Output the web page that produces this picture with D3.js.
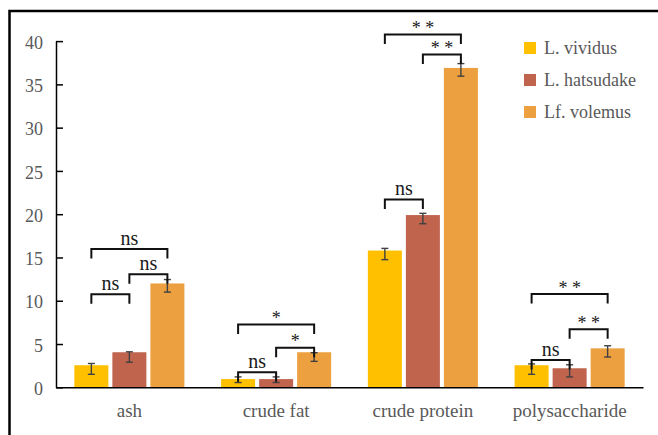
<!DOCTYPE html>
<html>
<head>
<meta charset="utf-8">
<script src="https://cdn.jsdelivr.net/npm/d3@7"></script>
<style>
  html, body { margin: 0; padding: 0; background: #fff; }
  svg { display: block; }
  text { font-family: "Liberation Serif", "Times New Roman", serif; }
</style>
</head>
<body>
<svg id="chart" width="658" height="435"></svg>
<script>
// Nutrient composition of three Lactarius species
const categories = ["ash", "crude fat", "crude protein", "polysaccharide"];
const seriesNames = ["L. vividus", "L. hatsudake", "Lf. volemus"];
const seriesColors = ["#FFC000", "#C0644E", "#EDA03F"];

const vividus   = [2.55, 0.95, 15.8, 2.55];
const hatsudake = [4.05, 0.95, 19.9, 2.2];
const volemus   = [12.0, 4.05, 36.9, 4.5];

// error bar extents (low, high) per category
const vividusErrLow    = [1.5, 0.55, 14.75, 1.5];
const vividusErrHigh   = [2.75, 1.2, 16.05, 2.7];
const hatsudakeErrLow  = [2.9, 0.55, 18.9, 1.2];
const hatsudakeErrHigh = [4.1, 1.2, 20.1, 2.6];
const volemusErrLow    = [11.0, 3.0, 35.95, 3.5];
const volemusErrHigh   = [12.45, 4.0, 37.4, 4.8];

const yTicks = [0, 5, 10, 15, 20, 25, 30, 35, 40];

// significance comparisons: category, pair of series, bracket level, label
const compCategory = ["ash", "ash", "ash",
                      "crude fat", "crude fat", "crude fat",
                      "crude protein", "crude protein", "crude protein",
                      "polysaccharide", "polysaccharide", "polysaccharide"];
const compFrom  = [0, 1, 0, 0, 1, 0, 0, 1, 0, 0, 1, 0];
const compTo    = [1, 2, 2, 1, 2, 2, 1, 2, 2, 1, 2, 2];
const compLevel = [10.74, 13.05, 15.97, 1.73, 4.57, 7.27, 21.7, 38.45, 40.76, 3.15, 6.7, 10.77];
const compLabel = ["ns", "ns", "ns", "ns", "*", "*", "ns", "* *", "* *", "ns", "* *", "* *"];

const valuesBySeries = [vividus, hatsudake, volemus];
const errLowBySeries = [vividusErrLow, hatsudakeErrLow, volemusErrLow];
const errHighBySeries = [vividusErrHigh, hatsudakeErrHigh, volemusErrHigh];

const bars = [];
categories.forEach((c, ci) => {
  seriesNames.forEach((s, si) => {
    bars.push({
      category: c, series: s, si,
      value: valuesBySeries[si][ci],
      lo: errLowBySeries[si][ci],
      hi: errHighBySeries[si][ci]
    });
  });
});

const comparisons = compCategory.map((c, i) => ({
  category: c, from: compFrom[i], to: compTo[i], level: compLevel[i], label: compLabel[i]
}));

const svg = d3.select("#chart");

// outer frame
svg.append("rect")
  .attr("x", 9.5).attr("y", 11)
  .attr("width", 700).attr("height", 480)
  .attr("fill", "none").attr("stroke", "#000").attr("stroke-width", 2.5);

const plotLeft = 56, plotRight = 643, plotTop = 41.1, plotBottom = 387.3;

const x0 = d3.scaleBand().domain(categories).range([plotLeft, plotRight])
  .paddingInner(0.25).paddingOuter(0.125);
const x1 = d3.scaleBand().domain(seriesNames).range([0, x0.bandwidth()])
  .paddingInner(4 / 38).paddingOuter(0);
const y = d3.scaleLinear().domain([0, 40]).range([plotBottom, plotTop]);
const color = d3.scaleOrdinal().domain(seriesNames).range(seriesColors);

// bars
svg.append("g").selectAll("rect").data(bars).join("rect")
  .attr("x", d => x0(d.category) + x1(d.series))
  .attr("y", d => y(d.value))
  .attr("width", x1.bandwidth())
  .attr("height", d => y(0) - y(d.value))
  .attr("fill", d => color(d.series));

// error bars
const capHalf = 3.5;
const eg = svg.append("g").attr("stroke", "#404040").attr("stroke-width", 1.4).attr("fill", "none");
bars.forEach(d => {
  const cx = x0(d.category) + x1(d.series) + x1.bandwidth() / 2;
  eg.append("line").attr("x1", cx).attr("x2", cx).attr("y1", y(d.hi)).attr("y2", y(d.lo));
  eg.append("line").attr("x1", cx - capHalf).attr("x2", cx + capHalf).attr("y1", y(d.hi)).attr("y2", y(d.hi));
  eg.append("line").attr("x1", cx - capHalf).attr("x2", cx + capHalf).attr("y1", y(d.lo)).attr("y2", y(d.lo));
});

// y axis
const yAxis = d3.axisLeft(y).tickValues(yTicks).tickSizeInner(-7).tickSizeOuter(0).tickPadding(13);
const gy = svg.append("g").attr("transform", `translate(${plotLeft},0)`).call(yAxis);
gy.select(".domain").attr("stroke", "#000").attr("stroke-width", 1.5);
gy.selectAll(".tick line").attr("stroke", "#000").attr("stroke-width", 1.5);
gy.selectAll(".tick text")
  .attr("fill", "#595959").attr("font-size", 18)
  .attr("font-family", "Liberation Serif, serif")
  .attr("dy", "0.4em");

// x axis
const xAxis = d3.axisBottom(x0).tickSize(0).tickPadding(0);
const gx = svg.append("g").attr("transform", `translate(0,${plotBottom})`).call(xAxis);
gx.select(".domain").attr("stroke", "#000").attr("stroke-width", 1.5);
gx.selectAll(".tick text")
  .attr("fill", "#595959").attr("font-size", 19)
  .attr("font-family", "Liberation Serif, serif")
  .attr("dy", 0).attr("y", 30);

// significance brackets
const leg = 9.5;
const bg = svg.append("g");
comparisons.forEach(c => {
  const xa = x0(c.category) + x1(seriesNames[c.from]) + x1.bandwidth() / 2;
  const xb = x0(c.category) + x1(seriesNames[c.to]) + x1.bandwidth() / 2;
  const yy = y(c.level);
  bg.append("path")
    .attr("d", `M${xa},${yy + leg}V${yy}H${xb}V${yy + leg}`)
    .attr("fill", "none").attr("stroke", "#111").attr("stroke-width", 2);
  const isStar = c.label.includes("*");
  bg.append("text")
    .attr("x", (xa + xb) / 2)
    .attr("y", isStar ? yy - 0.5 : yy - 4)
    .attr("text-anchor", "middle")
    .attr("font-size", isStar ? 18 : 20)
    .attr("fill", "#1a1a1a")
    .text(c.label);
});

// legend
const lg = svg.append("g");
seriesNames.forEach((s, i) => {
  const row = lg.append("g").attr("transform", `translate(524,${42 + i * 32})`);
  row.append("rect").attr("width", 12).attr("height", 12).attr("fill", color(s));
  row.append("text").attr("x", 20).attr("y", 12.3)
    .attr("font-size", 18).attr("fill", "#595959").text(s);
});
</script>
</body>
</html>
